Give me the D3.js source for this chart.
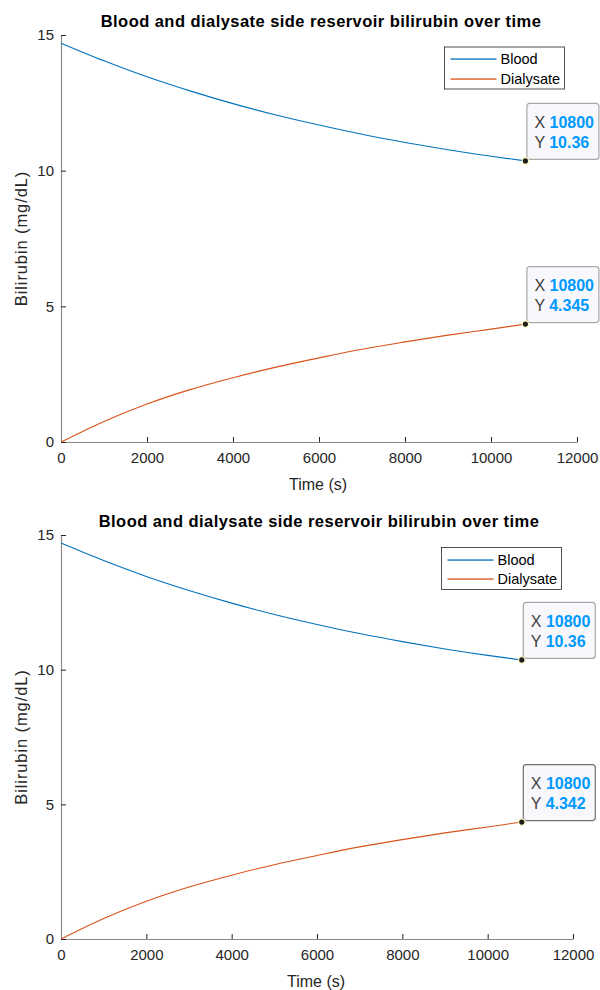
<!DOCTYPE html>
<html>
<head>
<meta charset="utf-8">
<script src="https://cdn.jsdelivr.net/npm/d3@7"></script>
<style>
  body { margin: 0; background: #fff; }
  svg { font-family: "Liberation Sans", Arial, sans-serif; }
</style>
</head>
<body>
<script>
// time (s) of sampled points
var times = [0, 1000, 2000, 3000, 4000, 5000, 6000, 7000, 8000, 9000, 10000, 10800];

// run 1 (top panel)
var blood1 = [14.70, 14.05, 13.46, 12.94, 12.47, 12.05, 11.68, 11.34, 11.04, 10.77, 10.53, 10.36];
var dialysate1 = [0, 0.76, 1.40, 1.93, 2.37, 2.76, 3.10, 3.42, 3.69, 3.94, 4.16, 4.345];

// run 2 (bottom panel)
var blood2 = [14.70, 14.05, 13.46, 12.94, 12.47, 12.05, 11.68, 11.34, 11.04, 10.77, 10.53, 10.36];
var dialysate2 = [0, 0.76, 1.40, 1.93, 2.37, 2.76, 3.10, 3.42, 3.69, 3.94, 4.16, 4.342];

var xTicks = [0, 2000, 4000, 6000, 8000, 10000, 12000];
var yTicks = [0, 5, 10, 15];
var seriesNames = ['Blood', 'Dialysate'];
var tipLabels1 = ['10.36', '4.345'];
var tipLabels2 = ['10.36', '4.342'];

var colors = ['#0072BD', '#D95319'];

var svg = d3.select('body').append('svg').attr('width', 600).attr('height', 990);

function drawPanel(opt) {
  var x = d3.scaleLinear().domain([0, 12000]).range([opt.left, opt.right]);
  var y = d3.scaleLinear().domain([0, 15]).range([opt.bottom, opt.top]);
  var g = svg.append('g');

  // title
  g.append('text')
    .attr('x', (opt.left + opt.right) / 2 + 2)
    .attr('y', opt.top - 8)
    .attr('text-anchor', 'middle')
    .attr('font-size', '16.5px')
    .attr('font-weight', 'bold')
    .attr('letter-spacing', '0.45px')
    .attr('fill', '#000')
    .text('Blood and dialysate side reservoir bilirubin over time');

  // axes (ticks point inward, matlab style)
  var xAxis = g.append('g').attr('transform', 'translate(0,' + opt.bottom + ')')
    .call(d3.axisBottom(x).tickValues(xTicks).tickSizeInner(-5).tickSizeOuter(0).tickPadding(10).tickFormat(d3.format('d')));
  var yAxis = g.append('g').attr('transform', 'translate(' + opt.left + ',0)')
    .call(d3.axisLeft(y).tickValues(yTicks).tickSizeInner(-5).tickSizeOuter(0).tickPadding(7));
  [xAxis, yAxis].forEach(function(a) {
    a.select('.domain').attr('stroke', '#8a8a8a').attr('stroke-width', 1.2);
    a.selectAll('.tick line').attr('stroke', '#262626');
    a.selectAll('.tick text').attr('fill', '#262626').attr('font-size', '15px')
      .attr('font-family', '"Liberation Sans", Arial, sans-serif');
  });

  g.append('text')
    .attr('x', (opt.left + opt.right) / 2 - 1)
    .attr('y', opt.bottom + 48)
    .attr('text-anchor', 'middle')
    .attr('font-size', '16px')
    .attr('fill', '#262626')
    .text('Time (s)');

  g.append('text')
    .attr('transform', 'translate(27,' + (opt.top + opt.bottom) / 2 + ') rotate(-90)')
    .attr('text-anchor', 'middle')
    .attr('font-size', '16.5px')
    .attr('letter-spacing', '0.9px')
    .attr('fill', '#262626')
    .text('Bilirubin (mg/dL)');

  var line = d3.line()
    .x(function(d, i) { return x(times[i]); })
    .y(function(d) { return y(d); })
    .curve(d3.curveMonotoneX);

  opt.series.forEach(function(s, k) {
    g.append('path').datum(s)
      .attr('d', line)
      .attr('fill', 'none')
      .attr('stroke', colors[k])
      .attr('stroke-width', 1.1);
  });

  // legend
  var lg = g.append('g');
  lg.append('rect')
    .attr('x', opt.legX).attr('y', opt.legY)
    .attr('width', 120).attr('height', 42)
    .attr('fill', '#fff').attr('stroke', '#262626').attr('stroke-width', 0.8);
  seriesNames.forEach(function(n, k) {
    var ly = Math.round(opt.legY + 12 + k * 19.5);
    lg.append('rect')
      .attr('x', opt.legX + 6).attr('width', 46)
      .attr('y', ly - 0.6).attr('height', 1.3)
      .attr('fill', colors[k]);
    lg.append('text')
      .attr('x', opt.legX + 56).attr('y', ly + 5)
      .attr('font-size', '14.5px').attr('fill', '#000')
      .text(n);
  });

  // data tips at the last point
  opt.series.forEach(function(s, k) {
    var last = s.length - 1;
    var px = x(times[last]), py = y(s[last]);
    var tip = g.append('g');
    tip.append('rect')
      .attr('x', px + 1.5).attr('y', py - 57.5)
      .attr('width', 72).attr('height', 56)
      .attr('rx', 3)
      .attr('fill', '#f8f8fc')
      .attr('stroke', opt.tipStroke[k]).attr('stroke-width', 1.2);
    var rows = [['X', d3.format('d')(times[last])], ['Y', opt.tipLabels[k]]];
    rows.forEach(function(r, j) {
      var t = tip.append('text')
        .attr('x', px + 9).attr('y', py - 33 + j * 20)
        .attr('font-size', '16px');
      t.append('tspan').attr('fill', '#404040').text(r[0] + ' ');
      t.append('tspan').attr('fill', '#0099ff').attr('font-weight', 'bold').text(r[1]);
    });
    tip.append('circle')
      .attr('cx', px).attr('cy', py).attr('r', 3.2)
      .attr('fill', '#1e1e1e')
      .attr('stroke', '#fff6c0').attr('stroke-width', 1.2);
  });
}

drawPanel({
  left: 61, right: 577, top: 35, bottom: 442,
  series: [blood1, dialysate1], tipLabels: tipLabels1,
  legX: 444.5, legY: 47, tipStroke: ['#a8a8a8', '#a8a8a8']
});

drawPanel({
  left: 61, right: 573, top: 535, bottom: 939,
  series: [blood2, dialysate2], tipLabels: tipLabels2,
  legX: 441.5, legY: 547.5, tipStroke: ['#a8a8a8', '#707070']
});
</script>
</body>
</html>
